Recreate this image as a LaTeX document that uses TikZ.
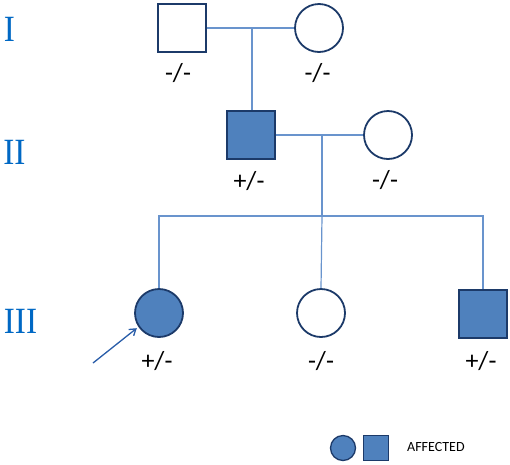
\documentclass[tikz,border=0pt]{standalone}
\usepackage{fontspec}
\setmainfont{Carlito}
\newfontfamily\genfont{Liberation Serif}
\usepackage{xcolor}
\usepackage{tikz}
\usetikzlibrary{arrows.meta, positioning}

\definecolor{affblue}{RGB}{79,129,189}
\definecolor{edgeblue}{RGB}{28,58,105}
\definecolor{lineblue}{RGB}{105,148,205}
\definecolor{genblue}{RGB}{0,104,196}
\definecolor{arrowblue}{RGB}{40,92,168}

\begin{document}
\begin{tikzpicture}[x=1pt, y=-1pt,
    male/.style={rectangle, draw=edgeblue, line width=1.8pt, fill=white, minimum size=48pt, inner sep=0pt},
    female/.style={circle, draw=edgeblue, line width=1.8pt, fill=white, minimum size=48pt, inner sep=0pt},
    affected/.style={fill=affblue},
    geno/.style={font=\fontsize{26}{28}\selectfont, inner sep=0pt},
    gen/.style={font=\genfont\fontsize{37}{40}\selectfont, text=genblue, inner sep=0pt, xscale=0.9},
    link/.style={draw=lineblue, line width=1.2pt}
]
\useasboundingbox (0,0) rectangle (510,464);

% Generation labels
\node[gen] (genI) at (9.5,29.5) {I};
\node[gen] (genII) at (14.5,152) {II};
\node[gen] (genIII) at (20.5,321.5) {III};

% Generation I
\node[male] (i1) at (182,28) {};
\node[female] (i2) at (319,28) {};
\node[geno] (gi1) at (178,73.5) {-/-};
\node[geno] (gi2) at (317.5,73.5) {-/-};

% Generation II
\node[male, affected] (ii1) at (251,135) {};
\node[female] (ii2) at (388,135) {};
\node[geno] (gii1) at (249,181) {+/-};
\node[geno] (gii2) at (385,180) {-/-};

% Generation III
\node[female, affected] (iii1) at (159,313) {};
\node[female] (iii2) at (321,313) {};
\node[male, affected] (iii3) at (483,314) {};
\node[geno] (giii1) at (157,361) {+/-};
\node[geno] (giii2) at (321,361) {-/-};
\node[geno] (giii3) at (481,361) {+/-};

% Relations
\coordinate (c1) at (252,28);
\coordinate (c2) at (322,135);
\coordinate (c3) at (322,216);
\draw[link] (i1.east) -- (i2.west);
\draw[link] (c1) -- (c1 |- ii1.north);
\draw[link] (ii1.east) -- (ii2.west);
\draw[link] (c2) -- (c3);
\draw[link] (iii1.north) |- (c3) -| (iii3.north);
\draw[link] (c3) -- (iii2.north);

% Proband
\coordinate (tail) at (93,363);
\draw[arrowblue, line width=1.3pt, -{Straight Barb[length=6pt, width=8pt]}, shorten >=2pt] (tail) -- (iii1.214);

% Legend
\node[female, affected, minimum size=25pt, line width=1.3pt] (legf) at (343,448) {};
\node[male, affected, minimum size=25pt, line width=1.3pt] (legm) at (376,448) {};
\node[font=\fontsize{14}{16}\selectfont, inner sep=0pt, anchor=west] (legt) at (407,446.5) {AFFECTED};

\end{tikzpicture}
\end{document}
